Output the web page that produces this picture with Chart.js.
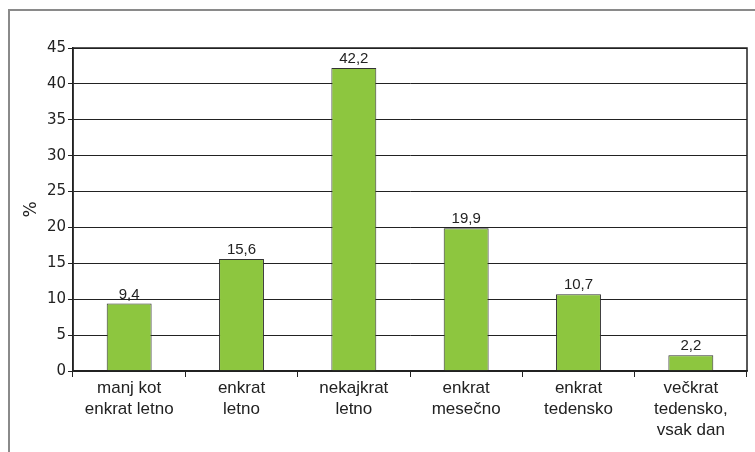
<!DOCTYPE html>
<html lang="sl">
<head>
<meta charset="UTF-8">
<title>Pogostost</title>
<script src="https://cdn.jsdelivr.net/npm/chart.js"></script>
<style>
    body { margin: 0; background: #fff; }
    #wrap { position: relative; width: 755px; height: 452px; overflow: hidden; }
    #frame {
        position: absolute; left: 8px; top: 9px; width: 800px; height: 500px;
        border-left: 2px solid #8a8a8a; border-top: 2px solid #8a8a8a;
    }
    canvas { position: absolute; left: 0; top: 0; }
</style>
</head>
<body>
<div id="wrap">
    <div id="frame"></div>
    <canvas id="c" width="755" height="452"></canvas>
</div>
<script>
    // kategorije in vrednosti (%)
    const categories = [
        ['manj kot', 'enkrat letno'],
        ['enkrat', 'letno'],
        ['nekajkrat', 'letno'],
        ['enkrat', 'mesečno'],
        ['enkrat', 'tedensko'],
        ['večkrat', 'tedensko,', 'vsak dan']
    ];
    const values = [9.4, 15.6, 42.2, 19.9, 10.7, 2.2];
    const yTicks = [0, 5, 10, 15, 20, 25, 30, 35, 40, 45];

    // okvir okoli grafa + oznake nad stolpci
    const extras = {
        id: 'extras',
        afterDatasetsDraw(chart) {
            const ctx = chart.ctx;
            const a = chart.chartArea;
            ctx.save();
            ctx.strokeStyle = '#222';
            ctx.lineWidth = 1.5;
            ctx.strokeRect(a.left, a.top, a.right - a.left, a.bottom - a.top);
            ctx.fillStyle = '#222';
            ctx.font = '15px "Liberation Sans", Arial, sans-serif';
            ctx.textAlign = 'center';
            ctx.textBaseline = 'alphabetic';
            chart.getDatasetMeta(0).data.forEach((bar, i) => {
                ctx.fillText(values[i].toFixed(1).replace('.', ','), bar.x, bar.y - 5);
            });
            ctx.restore();
        }
    };

    new Chart(document.getElementById('c'), {
        type: 'bar',
        data: {
            labels: categories,
            datasets: [{
                data: values,
                backgroundColor: '#8dc63f',
                borderColor: '#333',
                borderWidth: 1,
                barPercentage: 0.4,
                categoryPercentage: 1
            }]
        },
        options: {
            responsive: false,
            animation: false,
            layout: { padding: { left: 14, top: 48, right: 8, bottom: 0 } },
            plugins: { legend: { display: false }, tooltip: { enabled: false } },
            scales: {
                x: {
                    afterFit(s) { s.height = 81; },
                    grid: { offset: true, drawOnChartArea: false, color: '#222', tickLength: 6 },
                    border: { color: '#222', width: 1.5 },
                    ticks: {
                        color: '#222', padding: 1, maxRotation: 0, autoSkip: false,
                        font: { family: '"Liberation Sans", Arial, sans-serif', size: 17, lineHeight: 1.24 }
                    }
                },
                y: {
                    min: 0, max: 45,
                    afterFit(s) { s.width = 73 - 14; },
                    afterBuildTicks(s) { s.ticks = yTicks.map(v => ({ value: v })); },
                    grid: { color: '#222', lineWidth: 1, tickLength: 5 },
                    border: { color: '#222', width: 1.5 },
                    ticks: {
                        color: '#222', padding: 2,
                        font: { family: '"DejaVu Sans", Verdana, sans-serif', size: 15 }
                    },
                    title: {
                        display: true, text: '%', color: '#222', padding: 7,
                        font: { family: '"DejaVu Sans", Verdana, sans-serif', size: 17 }
                    }
                }
            }
        },
        plugins: [extras]
    });
</script>
</body>
</html>
